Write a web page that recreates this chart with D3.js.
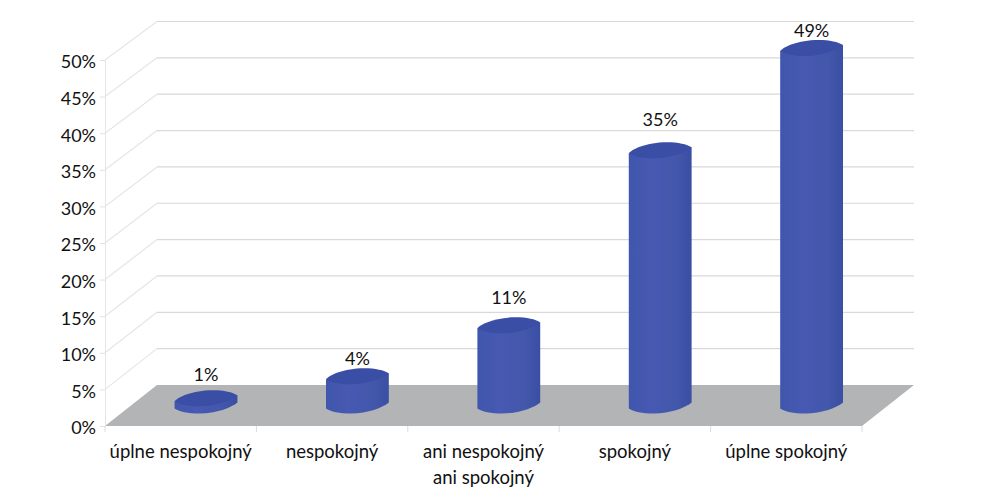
<!DOCTYPE html>
<html>
<head>
<meta charset="utf-8">
<script src="https://cdn.jsdelivr.net/npm/d3@7"></script>
<style>
  html, body { margin: 0; padding: 0; background: #fff; }
  svg { display: block; }
  text { font-family: Lato, sans-serif; fill: #111; }
</style>
</head>
<body>
<div id="chart"></div>
<script>
// Data
const categories = ['úplne nespokojný', 'nespokojný', 'ani nespokojný|ani spokojný', 'spokojný', 'úplne spokojný'];
const percents = [1, 4, 11, 35, 49];
const yTicks = [0, 5, 10, 15, 20, 25, 30, 35, 40, 45, 50];

const width = 1004;
const height = 497;

// front plane of the fake 3d box, the back plane is shifted right by depthX
const left = 105, right = 862, depthX = 52;

// the labels don't sit at a constant distance above the bars
const labelGaps = [23, 17, 27, 30, 17];

const svg = d3.select('#chart').append('svg')
    .attr('width', width)
    .attr('height', height);

const x = d3.scaleBand().domain(categories).range([left, right]);
const y = d3.scaleLinear().domain([0, 50]).range([426, 60]);
const yBack = d3.scaleLinear().domain([0, 50]).range([385, 21.5]);

const defs = svg.append('defs');
const grad = defs.append('linearGradient').attr('id', 'barGrad');
grad.append('stop').attr('offset', '0%').attr('stop-color', '#4056ad');
grad.append('stop').attr('offset', '35%').attr('stop-color', '#4759b2');
grad.append('stop').attr('offset', '75%').attr('stop-color', '#4357ab');
grad.append('stop').attr('offset', '100%').attr('stop-color', '#3a4fa3');

// side wall diagonals
svg.append('g').selectAll('line')
    .data(yTicks.filter(d => d > 0))
    .enter()
    .append('line')
    .attr('x1', left)
    .attr('y1', d => y(d))
    .attr('x2', left + depthX)
    .attr('y2', d => yBack(d))
    .attr('stroke', '#e6e6e6')
    .attr('stroke-width', 1.2);

// back wall grid
svg.append('g').selectAll('line')
    .data(yTicks.filter(d => d > 0))
    .enter()
    .append('line')
    .attr('x1', left + depthX)
    .attr('y1', d => yBack(d))
    .attr('x2', right + depthX)
    .attr('y2', d => yBack(d))
    .attr('stroke', '#d9d9d9')
    .attr('stroke-width', 1.2);

// floor
svg.append('path')
    .attr('d', `M${left},${y(0)}L${left + depthX},${yBack(0)}L${right + depthX},${yBack(0)}L${right},${y(0)}Z`)
    .attr('fill', '#b3b4b6');

// axes
const yAxis = svg.append('g')
    .attr('transform', `translate(${left},0)`)
    .call(d3.axisLeft(y).tickValues(yTicks).tickSize(5).tickPadding(4).tickFormat(d => d + '%'));
yAxis.select('.domain').attr('stroke', '#e6e6e6');
yAxis.selectAll('.tick line').attr('stroke', '#e2e2e2');
yAxis.selectAll('text').style('font-size', '18px').attr('dy', '0.44em');

// little marks between the categories
svg.append('g').selectAll('line')
    .data(categories.map(c => x(c)).concat(right))
    .enter()
    .append('line')
    .attr('x1', d => d)
    .attr('x2', d => d)
    .attr('y1', y(0))
    .attr('y2', y(0) + 6)
    .attr('stroke', '#dcdcdc');

const catLabels = svg.append('g').selectAll('text')
    .data(categories)
    .enter()
    .append('text')
    .attr('text-anchor', 'middle')
    .style('font-size', '18.5px');

catLabels.selectAll('tspan')
    .data(d => d.split('|').map(t => ({ t, c: d })))
    .enter()
    .append('tspan')
    .attr('x', d => x(d.c) + x.bandwidth() / 2)
    .attr('y', (d, i) => 458 + i * 26)
    .text(d => d.t);

// cylinders, standing in the middle of the floor depth
const barW = x.bandwidth() * 0.415;
const barX = c => x(c) + x.bandwidth() / 2 + depthX / 2 - 0.7;
const barY = v => (y(v) + yBack(v)) / 2;

// lopsided ellipse edges, the cap is not a clean ellipse in the original
const upperEdge = (l, c, k) =>
    `C${l + 3 * k},${c - 1} ${l + 18 * k},${c - 8} ${l + 38 * k},${c - 8}` +
    `C${l + 50 * k},${c - 8} ${l + 58 * k},${c - 6} ${l + 63 * k},${c - 3}`;
const lowerEdge = (l, c, k) =>
    `C${l + 57 * k},${c + 2} ${l + 42 * k},${c + 8} ${l + 25 * k},${c + 8}` +
    `C${l + 14 * k},${c + 8} ${l + 4 * k},${c + 6} ${l},${c + 3}`;

const bars = svg.append('g').selectAll('g')
    .data(categories.map((c, i) => ({ c, v: percents[i], gap: labelGaps[i] })))
    .enter()
    .append('g');

bars.each(function (d) {
    const g = d3.select(this);
    const cx = barX(d.c), top = barY(d.v), base = barY(0);
    const l = cx - barW / 2, r = cx + barW / 2, k = barW / 63;

    // body: left side down, round the bottom edge, right side up, over the top edge
    g.append('path')
        .attr('d', `M${l},${top + 3}L${l},${base + 3}` +
            `C${l + 4 * k},${base + 6} ${l + 14 * k},${base + 8} ${l + 25 * k},${base + 8}` +
            `C${l + 42 * k},${base + 8} ${l + 57 * k},${base + 2} ${r},${base - 3}` +
            `L${r},${top - 3}Z`)
        .attr('fill', 'url(#barGrad)');

    // cap
    g.append('path')
        .attr('d', `M${l},${top + 3}` + upperEdge(l, top, k) + lowerEdge(l, top, k) + 'Z')
        .attr('fill', '#3b4ea6');

    g.append('text')
        .attr('x', cx)
        .attr('y', top - d.gap + 6)
        .attr('text-anchor', 'middle')
        .style('font-size', '18px')
        .text(d.v + '%');
});
</script>
</body>
</html>
